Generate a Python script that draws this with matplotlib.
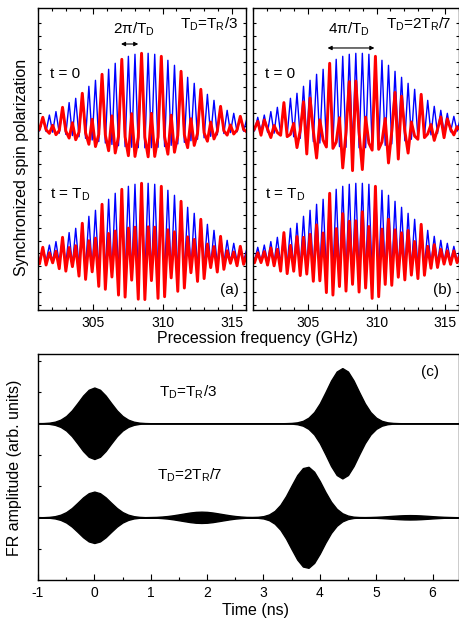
import numpy as np
import matplotlib
matplotlib.use("Agg")
import matplotlib.pyplot as plt
from matplotlib.ticker import MultipleLocator

plt.rcParams['font.family'] = ['Liberation Sans', 'DejaVu Sans']
plt.rcParams['mathtext.fontset'] = 'custom'
plt.rcParams['mathtext.rm'] = 'Liberation Sans'
plt.rcParams['mathtext.it'] = 'Liberation Sans'
plt.rcParams['mathtext.default'] = 'regular'
plt.rcParams['axes.unicode_minus'] = False

# ---- panels (a), (b): mode comb, peaks and half-way points (GHz) ----
freq_ghz = [300.870, 301.108, 301.346, 301.584, 301.822, 302.060, 302.298, 302.536,
            302.774, 303.012, 303.250, 303.488, 303.726, 303.964, 304.202, 304.440,
            304.678, 304.916, 305.154, 305.392, 305.630, 305.868, 306.106, 306.344,
            306.582, 306.820, 307.058, 307.296, 307.534, 307.772, 308.010, 308.248,
            308.486, 308.724, 308.962, 309.200, 309.438, 309.676, 309.914, 310.152,
            310.390, 310.628, 310.866, 311.104, 311.342, 311.580, 311.818, 312.056,
            312.294, 312.532, 312.770, 313.008, 313.246, 313.484, 313.722, 313.960,
            314.198, 314.436, 314.674, 314.912, 315.150, 315.388, 315.626, 315.864,
            316.102]

# single pulse train (blue), same in both panels and both times
blue_pol = [.12, -.035, .147, -.042, .177, -.052, .223, -.065, .28, -.081,
            .343, -.097, .40, -.113, .467, -.134, .56, -.156, .64, -.177,
            .72, -.196, .787, -.215, .867, -.232, .92, -.244, .96, -.253,
            .987, -.258, 1.0, -.26, 1.0, -.258, .987, -.253, .96, -.243,
            .907, -.227, .84, -.208, .76, -.187, .68, -.166, .60, -.146,
            .52, -.126, .453, -.107, .373, -.087, .293, -.069, .24, -.057,
            .20, -.047, .16, -.038, .13]

# pulse pairs (red)
red_a_t0 = [-.046, -.016, .147, -.019, -.067, .040, -.085, -.030, .28, -.037,
            -.130, .074, -.152, -.052, .467, -.061, -.213, .120, -.243, -.082,
            .72, -.090, -.299, .166, -.329, -.107, .92, -.113, -.365, .195,
            -.375, -.119, 1.0, -.119, -.38, .199, -.375, -.116, .96, -.112,
            -.345, .175, -.319, -.096, .76, -.086, -.258, .128, -.228, -.067,
            .52, -.059, -.172, .083, -.142, -.040, .293, -.032, -.091, .044,
            -.076, -.022, .16, -.017, -.049]
red_a_td = [.050, -.074, .147, -.089, .074, -.060, .094, -.138, .28, -.171,
            .144, -.111, .168, -.237, .467, -.281, .235, -.180, .269, -.374,
            .72, -.413, .331, -.249, .364, -.490, .92, -.517, .403, -.291,
            .415, -.545, 1.0, -.55, .42, -.297, .415, -.534, .96, -.512,
            .381, -.261, .353, -.44, .76, -.396, .286, -.192, .252, -.308,
            .52, -.27, .190, -.124, .157, -.183, .293, -.147, .101, -.066,
            .084, -.099, .16, -.080, .055]
red_b_t0 = [-.066, -.007, .093, -.092, .112, -.010, -.123, .038, -.056, -.093,
            .343, -.111, -.080, .065, -.257, -.026, .353, -.342, .403, -.034,
            -.396, .113, -.157, -.249, .867, -.267, -.184, .141, -.528, -.049,
            .622, -.564, .63, -.05, -.55, .149, -.197, -.291, .96, -.280,
            -.181, .131, -.462, -.040, .479, -.410, .428, -.032, -.330, .084,
            -.104, -.146, .453, -.124, -.075, .050, -.161, -.013, .151, -.125,
            .126, -.009, -.088, .022, -.026]
red_b_td = [.074, -.060, .074, -.057, .089, -.090, .138, -.100, .120, -.171,
            .343, -.204, .172, -.172, .290, -.230, .280, -.210, .320, -.306,
            .446, -.300, .338, -.457, .867, -.490, .396, -.376, .595, -.437,
            .494, -.347, .5, -.45, .62, -.396, .424, -.534, .96, -.512,
            .390, -.348, .521, -.36, .380, -.252, .340, -.288, .372, -.224,
            .224, -.270, .453, -.226, .160, -.132, .182, -.122, .120, -.077,
            .100, -.081, .099, -.058, .056]

# ---- panel (c): FR envelope vs time (ns) ----
time_ns = [-1.0, -0.9, -0.8, -0.7, -0.6, -0.5, -0.4, -0.3, -0.2, -0.1,
           0.0, 0.1, 0.2, 0.3, 0.4, 0.5, 0.6, 0.7, 0.8, 0.9,
           1.0, 1.1, 1.2, 1.3, 1.4, 1.5, 1.6, 1.7, 1.8, 1.9,
           2.0, 2.1, 2.2, 2.3, 2.4, 2.5, 2.6, 2.7, 2.8, 2.9,
           3.0, 3.1, 3.2, 3.3, 3.4, 3.5, 3.6, 3.7, 3.8, 3.9,
           4.0, 4.1, 4.2, 4.3, 4.4, 4.5, 4.6, 4.7, 4.8, 4.9,
           5.0, 5.1, 5.2, 5.3, 5.4, 5.5, 5.6, 5.7, 5.8, 5.9,
           6.0, 6.1, 6.2, 6.3, 6.4, 6.5]
fr_env_r3 = [.002, .007, .019, .050, .115, .231, .410, .642, .884, 1.069,
             1.140, 1.069, .884, .642, .410, .231, .115, .050, .019, .007,
             .002, 0, 0, 0, 0, 0, 0, 0, 0, 0,
             0, 0, 0, 0, 0, 0, 0, 0, 0, 0,
             0, 0, 0, 0, .004, .011, .030, .077, .178, .357,
             .634, .991, 1.364, 1.651, 1.760, 1.651, 1.364, .991, .634, .357,
             .178, .077, .030, .011, .004, 0, 0, 0, 0, 0,
             0, 0, 0, 0, 0, 0]
fr_env_2r7 = [.002, .005, .014, .036, .083, .166, .295, .462, .636, .769,
              .820, .769, .636, .462, .295, .166, .083, .036, .014, .005,
              .009, .013, .025, .041, .065, .094, .124, .153, .173, .180,
              .173, .153, .124, .094, .065, .041, .025, .013, .011, .016,
              .037, .092, .204, .396, .677, 1.018, 1.348, 1.570, 1.611, 1.455,
              1.157, .808, .498, .270, .129, .054, .020, .009, .007, .010,
              .016, .025, .036, .048, .059, .067, .070, .067, .059, .048,
              .036, .025, .016, .010, .005, .003]

W, H = 459, 619
fig = plt.figure(figsize=(W / 100, H / 100), dpi=100)


def px_axes(left, top, right, bottom):
    return fig.add_axes([left / W, 1 - bottom / H, (right - left) / W, (bottom - top) / H])


upper = 1.733  # vertical offset of the t = 0 traces
blue, red = '#0000ff', '#ff0000'


def spin_panel(ax, red_t0, red_td, period_txt, ratio_txt, arrow_x, arrow_y, tag):
    f = np.array(freq_ghz)
    ax.plot(f, np.array(blue_pol) + upper, color=blue, lw=1.0)
    ax.plot(f, np.array(red_t0) + upper, color=red, lw=2.1)
    ax.plot(f, np.array(blue_pol), color=blue, lw=1.0)
    ax.plot(f, np.array(red_td), color=red, lw=2.1)
    ax.set_xlim(301, 316)
    ax.set_ylim(-0.689, 3.337)
    ax.xaxis.set_major_locator(MultipleLocator(5))
    ax.xaxis.set_minor_locator(MultipleLocator(1))
    ax.set_yticks(np.arange(3.133, -0.7, -0.1704))
    ax.tick_params(axis='x', which='major', direction='in', length=4.5, width=0.8,
                   top=True, labelsize=10, pad=4)
    ax.tick_params(axis='x', which='minor', direction='in', length=2.5, width=0.8, top=True)
    ax.tick_params(axis='y', direction='in', length=2.2, width=0.8, right=True,
                   labelleft=False)
    for s in ax.spines.values():
        s.set_linewidth(1.0)
    ax.text(301.86, 2.40, 't = 0', fontsize=11)
    ax.text(301.86, 0.79, 't = T$_D$', fontsize=11)
    ax.text(307.96, 3.0, period_txt, fontsize=11, ha='center')
    ax.annotate('', xy=(arrow_x[1], arrow_y), xytext=(arrow_x[0], arrow_y),
                arrowprops=dict(arrowstyle='<|-|>', color='k', lw=0.8,
                                mutation_scale=6, shrinkA=0, shrinkB=0))
    ax.text(ratio_txt[1], 3.06, ratio_txt[0], fontsize=11)
    ax.text(315.5, -0.477, tag, fontsize=11, ha='right')


ax_a = px_axes(38, 8, 245.5, 310)
spin_panel(ax_a, red_a_t0, red_a_td, '2π/T$_D$', ('T$_D$=T$_R$/3', 311.3),
           (307.0, 308.25), 2.857, '(a)')
ax_b = px_axes(253, 8, 459, 310)
spin_panel(ax_b, red_b_t0, red_b_td, '4π/T$_D$', ('T$_D$=2T$_R$/7', 310.69),
           (306.43, 309.84), 2.804, '(b)')

fig.text(22 / W, 1 - 167.5 / H, 'Synchronized spin polarization', rotation=90,
         ha='center', va='center', fontsize=11.5)
fig.text(257.5 / W, 1 - 338.3 / H, 'Precession frequency (GHz)',
         ha='center', va='center', fontsize=11.5)

# ---- panel (c) ----
ax_c = px_axes(38, 354, 459, 580)
t = np.array(time_ns)
for env, base in ((fr_env_r3, 3.0), (fr_env_2r7, 0.0)):
    e = np.array(env)
    ax_c.fill_between(t, base - e, base + e, facecolor='k', edgecolor='k', lw=1.0)
ax_c.set_xlim(-1, 6.47)
ax_c.set_ylim(-2.0, 5.21)
ax_c.xaxis.set_major_locator(MultipleLocator(1))
ax_c.xaxis.set_minor_locator(MultipleLocator(0.5))
ax_c.set_yticks(range(-1, 6))
ax_c.tick_params(axis='x', which='major', direction='in', length=4.5, width=0.8,
                 labelsize=10, pad=4)
ax_c.tick_params(axis='x', which='minor', direction='in', length=2.5, width=0.8)
ax_c.tick_params(axis='y', direction='in', length=2.5, width=0.8, labelleft=False)
for s in ax_c.spines.values():
    s.set_linewidth(1.0)
ax_c.text(1.14, 3.85, 'T$_D$=T$_R$/3', fontsize=11)
ax_c.text(1.11, 1.19, 'T$_D$=2T$_R$/7', fontsize=11)
ax_c.text(5.79, 4.51, '(c)', fontsize=11)

fig.text(14.5 / W, 1 - 468 / H, 'FR amplitude (arb. units)', rotation=90,
         ha='center', va='center', fontsize=11.5)
fig.text(255.5 / W, 1 - 610 / H, 'Time (ns)', ha='center', va='center', fontsize=11.5)

fig.savefig('out.png', dpi=100)
